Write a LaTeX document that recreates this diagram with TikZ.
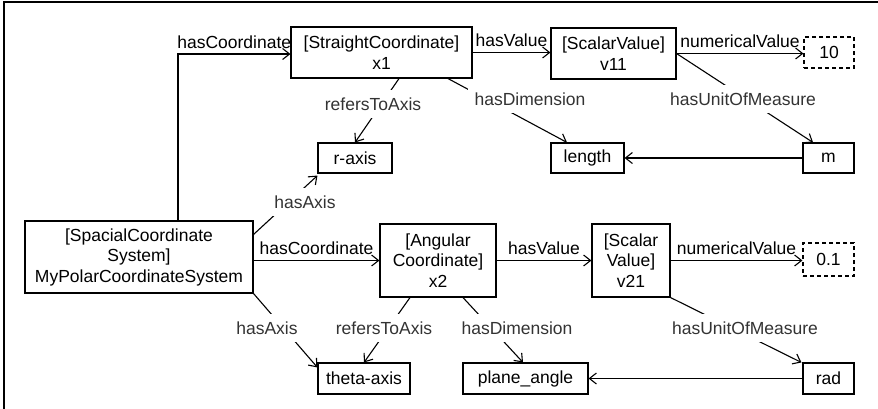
\documentclass[tikz,border=0pt]{standalone}
\usepackage{fontspec}
\setmainfont{Liberation Sans}
\usetikzlibrary{arrows.meta,calc}
\begin{document}
\begin{tikzpicture}[x=1pt,y=-1pt,
  font=\fontsize{17.5}{20.5}\selectfont,
  box/.style={draw, line width=1.1pt, rectangle, inner sep=0pt, align=center, text=black},
  lit/.style={box, dash pattern=on 4pt off 3pt},
  arr/.style={-{Straight Barb[length=7pt,width=11pt]}, line width=1.1pt},
  hlbl/.style={above=4pt, inner sep=1pt, text=black},
  dlbl/.style={fill=white, text=black!80, inner xsep=7pt, inner ysep=8pt, text height=12.5pt, text depth=0pt}]
\useasboundingbox (0,0) rectangle (878,408);
% frame (top and left edges)
\draw[line width=1.6pt] (4,409) coordinate (fbl) -- (4,2) coordinate (ftl) -- (879,2) coordinate (ftr);
% nodes
\node[box, minimum width=181pt, minimum height=51pt] (x1) at (381.5,52.5) {[StraightCoordinate]\\x1};
\node[box, minimum width=125pt, minimum height=51pt] (v11) at (613.5,53.5) {[ScalarValue]\\v11};
\node[lit, minimum width=50pt, minimum height=31pt] (ten) at (829,52.5) {10};
\node[box, minimum width=74pt, minimum height=30pt] (raxis) at (355,158) {r-axis};
\node[box, minimum width=73pt, minimum height=30pt] (length) at (587.5,158) {length};
\node[box, minimum width=51pt, minimum height=30pt] (m) at (828.5,158) {m};
\node[box, minimum width=228pt, minimum height=72pt] (scs) at (139,257) {[SpacialCoordinate\\System]\\MyPolarCoordinateSystem};
\node[box, minimum width=116pt, minimum height=73pt] (x2) at (438,260.5) {[Angular\\Coordinate]\\x2};
\node[box, minimum width=78pt, minimum height=73pt] (v21) at (631,260.5) {[Scalar\\Value]\\v21};
\node[lit, minimum width=51pt, minimum height=33pt] (pt1) at (828.5,259.5) {0.1};
\node[box, minimum width=92pt, minimum height=31pt] (theta) at (364,378.5) {theta-axis};
\node[box, minimum width=125pt, minimum height=31pt] (plane) at (525.5,378.5) {plane\_angle};
\node[box, minimum width=51pt, minimum height=31pt] (rad) at (828.5,378.5) {rad};
% horizontal connectors with labels above
\draw[arr] ([xshift=39pt]scs.north) |- ([yshift=-1.5pt]x1.west) node[pos=0.75, hlbl] (lhc1) {hasCoordinate};
\draw[arr] (x1.east) -- (x1.east -| v11.west) node[midway, hlbl] (lhv1) {hasValue};
\draw[arr] (v11.east) -- (v11.east -| ten.west) node[midway, hlbl] (lnv1) {numericalValue};
\draw[arr] (x2.west -| scs.east) -- (x2.west) node[midway, hlbl] (lhc2) {hasCoordinate};
\draw[arr] (x2.east) -- (v21.west) node[midway, hlbl] (lhv2) {hasValue};
\draw[arr] (v21.east) -- (v21.east -| pt1.west) node[midway, hlbl] (lnv2) {numericalValue};
\draw[arr] (m.west) -- (length.east);
\draw[arr] (rad.west) -- (plane.east);
% diagonal connectors
\draw[arr] ([xshift=17.5pt]x1.south) -- (raxis.north);
\draw[arr] ([xshift=66.5pt]x1.south) -- ([xshift=-20.5pt]length.north);
\draw[arr] (v11.east) -- ([xshift=-15.5pt]m.north);
\draw[arr] ([yshift=-14pt]scs.north east) -- ([yshift=-2pt]raxis.south west);
\draw[arr] (scs.south east) -- ([yshift=-5pt]theta.north west);
\draw[arr] ([xshift=-28pt]x2.south) -- (theta.north);
\draw[arr] ([xshift=25pt]x2.south) -- ([xshift=-2.5pt]plane.north);
\draw[arr] (v21.south east) -- ([xshift=-1pt]rad.north west);
% labels on diagonal connectors
\node[dlbl] (lra1) at (373,104) {refersToAxis};
\node[dlbl] (lhd1) at (530,99) {hasDimension};
\node[dlbl] (lum1) at (743,99) {hasUnitOfMeasure};
\node[dlbl] (lha1) at (305,202) {hasAxis};
\node[dlbl] (lha2) at (267,328) {hasAxis};
\node[dlbl] (lra2) at (384,328) {refersToAxis};
\node[dlbl] (lhd2) at (517,328) {hasDimension};
\node[dlbl] (lum2) at (745,328) {hasUnitOfMeasure};
\end{tikzpicture}
\end{document}
